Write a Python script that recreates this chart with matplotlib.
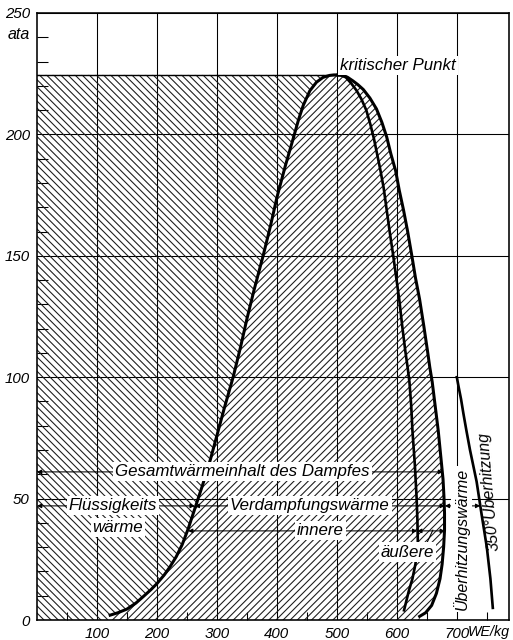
import numpy as np
import matplotlib
matplotlib.use("Agg")
import matplotlib.pyplot as plt

plt.rcParams['font.family'] = ['Liberation Sans', 'DejaVu Sans']
plt.rcParams['font.style'] = 'italic'
plt.rcParams['hatch.linewidth'] = 0.6

# Wärmeinhalt (WE/kg) über dem Druck (ata)
krit_x, krit_p = 502, 224.5

# Flüssigkeitswärme
fl_x = [118, 122, 135, 150, 165, 177, 190, 200, 212, 222, 232, 242, 252, 262, 276, 289,
        300, 312, 327, 339, 350, 362, 377, 389, 400, 414, 428, 436, 444, 455, 466, 477,
        488, 495, 502]
fl_p = [0, 2, 3, 4.5, 7, 9.6, 12.5, 15, 18.5, 22, 26, 31, 37.5, 45, 55.5, 66,
        76, 87, 100, 112, 124, 136, 150, 162, 174, 187, 199, 206, 212, 218, 221.5, 223.5,
        224.3, 224.5, 224.5]

# Flüssigkeitswärme + innere Verdampfungswärme
inn_x = [502, 508, 515, 524, 533, 541, 549, 556, 562, 567, 572, 578, 583, 588, 594, 599,
         604, 609, 614, 618, 621, 624, 626, 630, 633, 634.3, 635, 631, 626, 620, 616, 612]
inn_p = [224.5, 224.2, 223.5, 221, 218, 214.5, 210, 204, 198, 192, 186, 178, 169, 160, 150, 141,
         132, 121, 111, 104, 98, 88, 78, 64, 50, 41, 32, 23, 17, 12, 8, 4]

# Gesamtwärmeinhalt des gesättigten Dampfes
ges_x = [502, 510, 518, 527, 535, 544, 555, 566, 575, 583, 590, 598, 604, 611, 618, 625,
         631, 638, 645, 651, 655, 659, 664, 669, 673, 677, 678.5, 679.5, 679.5, 678, 675.5, 672,
         666, 658, 648, 638]
ges_p = [224.5, 224.4, 223.5, 222, 220.5, 218.5, 215, 210.5, 205, 199, 192, 185, 177, 169, 160, 150,
         141, 132, 121, 111, 104, 98, 88, 78, 68, 58, 51, 44, 37, 30, 23, 17,
         11, 6, 3, 1.5]

# 350° Überhitzung
ue_x = [700, 703, 707, 711, 716, 722, 733, 741, 750, 756, 760]
ue_p = [100, 96, 91, 85, 78, 70, 57, 44, 30, 17, 5]

# Pfeile: (Höhe, von, bis)
pf_y = [61, 47, 47, 36.7, 36.7, 47]
pf_x0 = [0, 0, 263, 252, 634, 680]
pf_x1 = [677, 263, 680, 634, 680, 739]

fig = plt.figure(figsize=(513 / 128, 640 / 128), dpi=128)
ax = fig.add_axes([37 / 513, 20 / 640, 472 / 513, 607 / 640])
ax.set_xlim(0, 787)
ax.set_ylim(0, 250)

# schraffierte Flächen
ax.fill(np.r_[0, fl_x, 0], np.r_[0, fl_p, krit_p], facecolor='none',
        edgecolor='0.1', linewidth=0, hatch='\\' * 6, zorder=1)
ax.fill(np.r_[fl_x, ges_x, ges_x[-1]], np.r_[fl_p, ges_p, 0], facecolor='none',
        edgecolor='0.1', linewidth=0, hatch='/' * 6, zorder=1)
ax.plot([0, krit_x], [krit_p, krit_p], color='k', lw=0.8, zorder=2)

ax.plot(fl_x[1:], fl_p[1:], color='k', lw=1.7, zorder=3, solid_joinstyle='round')
ax.plot(inn_x, inn_p, color='k', lw=1.5, zorder=3, solid_joinstyle='round')
ax.plot(ges_x, ges_p, color='k', lw=1.7, zorder=3, solid_joinstyle='round')
ax.plot(ue_x, ue_p, color='k', lw=1.5, zorder=3, solid_joinstyle='round')

for y, x0, x1 in zip(pf_y, pf_x0, pf_x1):
    ax.annotate('', xy=(x1, y), xytext=(x0, y),
                arrowprops=dict(arrowstyle='<|-|>', lw=0.6, color='k',
                                mutation_scale=5, shrinkA=0, shrinkB=0),
                zorder=4)
ax.plot([650, 660], [31.7, 37], color='k', lw=0.6, zorder=4)

box = dict(boxstyle='square,pad=0.12', fc='white', ec='none')
fs = 9.5
ax.text(343, 61, 'Gesamtwärmeinhalt des Dampfes', ha='center', va='center', fontsize=fs, bbox=box, zorder=5)
ax.text(127, 47, 'Flüssigkeits', ha='center', va='center', fontsize=fs, bbox=box, zorder=5)
ax.text(135, 38, 'wärme', ha='center', va='center', fontsize=fs, bbox=box, zorder=5)
ax.text(455, 47, 'Verdampfungswärme', ha='center', va='center', fontsize=fs, bbox=box, zorder=5)
ax.text(472, 36.7, 'innere', ha='center', va='center', fontsize=fs, bbox=box, zorder=5)
ax.text(618, 28, 'äußere', ha='center', va='center', fontsize=fs, bbox=box, zorder=5)
ax.text(708, 33.4, 'Überhitzungswärme', ha='center', va='center', rotation=90,
        fontsize=9, bbox=box, zorder=5)
ax.text(752, 53, '350°Überhitzung', ha='center', va='center', rotation=95,
        fontsize=9, zorder=5)
ax.text(505, 228.5, 'kritischer Punkt', ha='left', va='center', fontsize=fs, bbox=box, zorder=5)
ax.text(-30, 241, 'ata', ha='center', va='center', fontsize=9, clip_on=False)
ax.text(719, -0.02, 'WE/kg', transform=ax.get_xaxis_transform(), ha='left', va='center',
        fontsize=8, clip_on=False)

ax.set_xticks(range(100, 800, 100))
ax.set_yticks(range(0, 300, 50))
ax.set_xticks(range(50, 800, 100), minor=True)
ax.set_yticks([v for v in range(10, 250, 10) if v % 50], minor=True)
ax.tick_params(which='major', length=0, labelsize=8.5, pad=4)
ax.tick_params(axis='y', which='minor', direction='in', length=6, width=0.6)
ax.tick_params(axis='x', which='minor', direction='in', length=4.5, width=0.6)
ax.set_axisbelow(True)
ax.grid(True, which='major', color='k', lw=0.6)
for s in ax.spines.values():
    s.set_linewidth(0.9)

fig.savefig('out.png', dpi=128)
